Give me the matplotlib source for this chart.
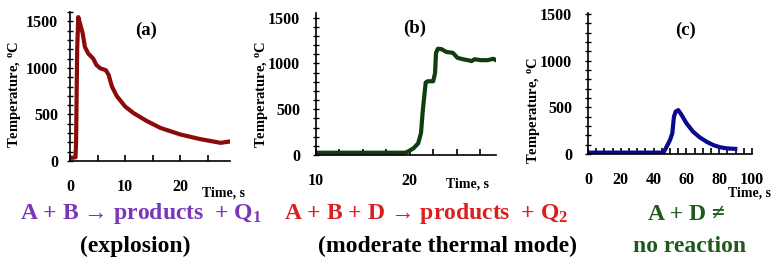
import matplotlib
matplotlib.use("Agg")
import matplotlib.pyplot as plt
from matplotlib.ticker import MultipleLocator

plt.rcParams["font.family"] = ["Liberation Serif", "DejaVu Serif"]
plt.rcParams["font.weight"] = "bold"
plt.rcParams["mathtext.fontset"] = "custom"
plt.rcParams["mathtext.rm"] = "Liberation Serif:bold"
plt.rcParams["mathtext.it"] = "Liberation Serif:bold"
plt.rcParams["mathtext.bf"] = "Liberation Serif:bold"
plt.rcParams["mathtext.default"] = "rm"

# (a) explosion
time_a = [0, 0.5, 1.0, 1.1, 1.2, 1.3, 1.5, 1.8, 2.3, 2.7, 3.3, 4.2, 4.8, 5.5, 6.5,
          7.0, 7.6, 8.5, 10.0, 11.5, 13.9, 16.4, 20.0, 23.6, 27.3, 29.0]
temp_a = [35, 35, 40, 200, 700, 1200, 1545, 1480, 1370, 1225, 1155, 1100, 1030, 995, 975,
          925, 800, 695, 585, 515, 430, 355, 285, 235, 195, 210]

# (b) moderate thermal mode
time_b = [10, 19.5, 19.8, 20.4, 20.9, 21.2, 21.4, 21.7, 21.9, 22.5, 22.7, 22.8, 23.0,
          23.4, 23.9, 24.6, 25.1, 25.7, 26.2, 26.6, 26.9, 27.6, 28.3, 28.9, 29.1]
temp_b = [25, 25, 37, 73, 128, 240, 495, 790, 805, 805, 895, 1115, 1160,
          1155, 1125, 1115, 1060, 1045, 1035, 1025, 1045, 1035, 1035, 1050, 1040]

# (c) no reaction
time_c = [0, 46, 48, 50, 51.4, 52.4, 53.5, 55, 57, 60, 64, 68, 72.4, 76.5, 80.6, 84.7, 89.8]
temp_c = [15, 15, 80, 150, 220, 400, 455, 470, 420, 330, 240, 180, 130, 95, 72, 60, 55]

W, H = 772, 263
fig = plt.figure(figsize=(W / 100, H / 100), dpi=100)


def px_axes(left, bottom, right, top):
    return fig.add_axes([left / W, 1 - bottom / H, (right - left) / W, (bottom - top) / H])


def ftext(x, y, s, **kw):
    fig.text(x / W, 1 - y / H, s, **kw)


def style(ax, xlim, ylim, xmajor, xminor, ylabel_pad):
    ax.set_xlim(*xlim)
    ax.set_ylim(*ylim)
    for side in ("top", "right"):
        ax.spines[side].set_visible(False)
    for side in ("left", "bottom"):
        ax.spines[side].set_linewidth(1.2)
    ax.xaxis.set_major_locator(MultipleLocator(xmajor))
    ax.xaxis.set_minor_locator(MultipleLocator(xminor))
    ax.yaxis.set_major_locator(MultipleLocator(500))
    ax.yaxis.set_minor_locator(MultipleLocator(100))
    ax.tick_params(axis="x", which="both", direction="in", length=4, width=1.2,
                   labelsize=11.5, pad=13)
    ax.tick_params(axis="y", which="both", direction="inout", length=5, width=1.0,
                   labelsize=11.5, pad=ylabel_pad)


ax_a = px_axes(70, 161, 230, 12)
ax_a.plot(time_a, temp_a, color="#8b0a0a", lw=3)
style(ax_a, (0, 29), (0, 1600), 10, 5, 6)

ax_b = px_axes(316, 155, 496, 13)
ax_b.plot(time_b, temp_b, color="#0f3d0f", lw=3)
style(ax_b, (10, 29.2), (0, 1550), 10, 2.5, 9)

ax_c = px_axes(588, 154, 752, 13)
ax_c.plot(time_c, temp_c, color="#0a0a8c", lw=3)
style(ax_c, (0, 100), (0, 1510), 20, 5, 9)

ylab = "Temperature, $^{o}$C"
ftext(15, 94, ylab, rotation=90, ha="center", va="center", fontsize=10.5)
ftext(262, 94, ylab, rotation=90, ha="center", va="center", fontsize=10.5)
ftext(533, 110, ylab, rotation=90, ha="center", va="center", fontsize=10.5)

ftext(146, 30, "(a)", ha="center", va="center", fontsize=13.5)
ftext(415, 28, "(b)", ha="center", va="center", fontsize=13.5)
ftext(686, 30, "(c)", ha="center", va="center", fontsize=13.5)

ftext(223, 193, "Time, s", ha="center", va="center", fontsize=10)
ftext(467, 184, "Time, s", ha="center", va="center", fontsize=10)
ftext(771, 193, "Time, s", ha="right", va="center", fontsize=10)

ftext(141, 214, "A + B \u2192 products  + Q$_1$", ha="center", va="center",
      fontsize=17, color="#7b35b8")
ftext(135, 246, "(explosion)", ha="center", va="center", fontsize=17, color="black")
ftext(426, 214, "A + B + D \u2192 products  + Q$_2$", ha="center", va="center",
      fontsize=17, color="#dc1e1e")
ftext(448, 246, "(moderate thermal mode)", ha="center", va="center", fontsize=17,
      color="black")
ftext(686, 214, "A + D \u2260", ha="center", va="center", fontsize=17, color="#1e5a1e")
ftext(690, 246, "no reaction", ha="center", va="center", fontsize=17, color="#1e5a1e")

fig.savefig("out.png", dpi=100)
